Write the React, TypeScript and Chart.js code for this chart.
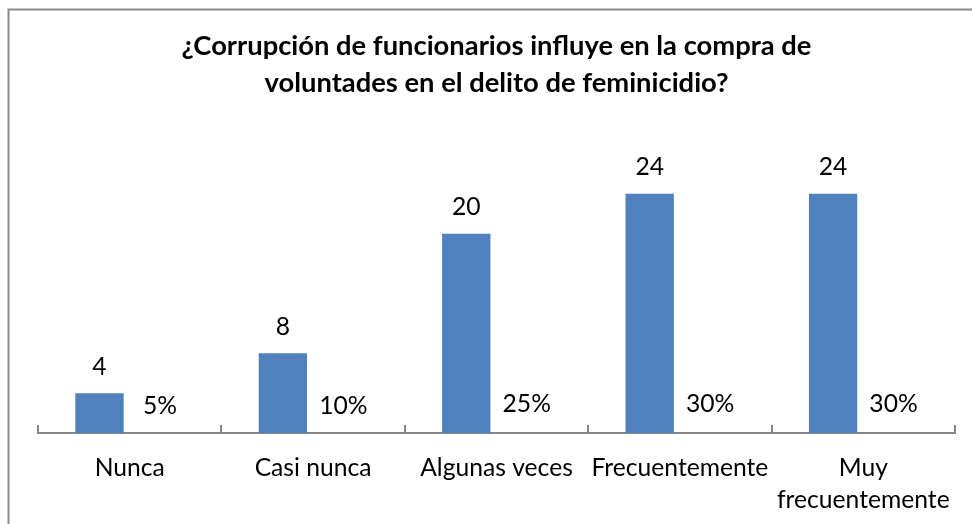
import React, { useEffect, useRef } from "react";
import { Chart, registerables } from "chart.js";

Chart.register(...registerables);

const titleLines = [
  "¿Corrupción de funcionarios influye en la compra de",
  "voluntades en el delito de feminicidio?",
];
const categories = [
  ["Nunca"],
  ["Casi nunca"],
  ["Algunas veces"],
  ["Frecuentemente"],
  ["Muy", "frecuentemente"],
];
const counts = [4, 8, 20, 24, 24];
const shares = [0.05, 0.1, 0.25, 0.3, 0.3];

const FONT = "Lato, 'Open Sans', sans-serif";

function fitSize(text: string, target: number, weight: string): number {
  const c = document.createElement("canvas").getContext("2d")!;
  c.font = `${weight} 100px ${FONT}`;
  return (target / c.measureText(text).width) * 100;
}

export default function App() {
  const ref = useRef<HTMLCanvasElement | null>(null);

  useEffect(() => {
    if (!ref.current) return;
    const labelSize = fitSize("Frecuentemente", 177, "normal");
    const titleSize = fitSize(titleLines[0], 630, "bold");

    const frame = {
      id: "frame",
      beforeDraw(chart: any) {
        const ctx = chart.ctx;
        ctx.save();
        ctx.strokeStyle = "#8a8a8a";
        ctx.lineWidth = 2;
        ctx.beginPath();
        ctx.moveTo(8.5, 530);
        ctx.lineTo(8.5, 9.5);
        ctx.lineTo(980, 9.5);
        ctx.stroke();
        ctx.restore();
      },
    };

    const axisTicks = {
      id: "axisTicks",
      afterDraw(chart: any) {
        const sx = chart.scales.x;
        const ctx = chart.ctx;
        const n = chart.data.labels.length;
        const w = (sx.right - sx.left) / n;
        const yb = chart.chartArea.bottom;
        ctx.save();
        ctx.strokeStyle = "#868686";
        ctx.lineWidth = 2;
        for (let i = 0; i <= n; i++) {
          const x = Math.round(sx.getPixelForValue(0) - w / 2 + i * w);
          ctx.beginPath();
          ctx.moveTo(x, yb - 8);
          ctx.lineTo(x, yb);
          ctx.stroke();
        }
        ctx.restore();
      },
    };

    const valueLabels = {
      id: "valueLabels",
      afterDatasetsDraw(chart: any) {
        const ctx = chart.ctx;
        ctx.save();
        ctx.fillStyle = "#000";
        ctx.font = `normal ${labelSize}px ${FONT}`;
        ctx.textAlign = "center";
        ctx.textBaseline = "alphabetic";
        chart.data.datasets.forEach((ds: any, di: number) => {
          const meta = chart.getDatasetMeta(di);
          meta.data.forEach((el: any, j: number) => {
            const v = ds.data[j];
            const txt = di === 0 ? String(v) : `${Math.round(v * 100)}%`;
            ctx.fillText(txt, el.x, el.y - 18.5);
          });
        });
        ctx.restore();
      },
    };

    const chart = new Chart(ref.current, {
      type: "bar",
      data: {
        labels: categories as any,
        datasets: [
          {
            data: counts,
            backgroundColor: "#4F81BD",
            categoryPercentage: 0.659,
            barPercentage: 0.8,
          },
          {
            data: shares,
            backgroundColor: "rgba(0,0,0,0)",
            categoryPercentage: 0.659,
            barPercentage: 0.8,
          },
        ],
      },
      options: {
        responsive: false,
        animation: false,
        devicePixelRatio: 1,
        layout: { padding: { left: 38, right: 17, top: 10, bottom: -11 } },
        plugins: {
          legend: { display: false },
          tooltip: { enabled: false },
          title: {
            display: true,
            text: titleLines,
            color: "#000",
            font: { family: FONT, weight: "bold", size: titleSize, lineHeight: 37 / titleSize },
            padding: { top: 17.5, bottom: 32.5 },
          },
        },
        scales: {
          x: {
            grid: { display: false, drawTicks: false },
            border: { display: true, color: "#868686", width: 2 },
            ticks: {
              color: "#000",
              font: { family: FONT, size: labelSize, lineHeight: 32 / labelSize },
              padding: 19,
              autoSkip: false,
              maxRotation: 0,
              minRotation: 0,
            },
          },
          y: { display: false, min: 0, max: 30 },
        },
      },
      plugins: [frame, axisTicks, valueLabels],
    } as any);

    return () => chart.destroy();
  }, []);

  return (
    <canvas
      ref={ref}
      width={972}
      height={524}
      style={{ position: "fixed", left: 0, top: 0, width: 972, height: 524, background: "#fff" }}
    />
  );
}
